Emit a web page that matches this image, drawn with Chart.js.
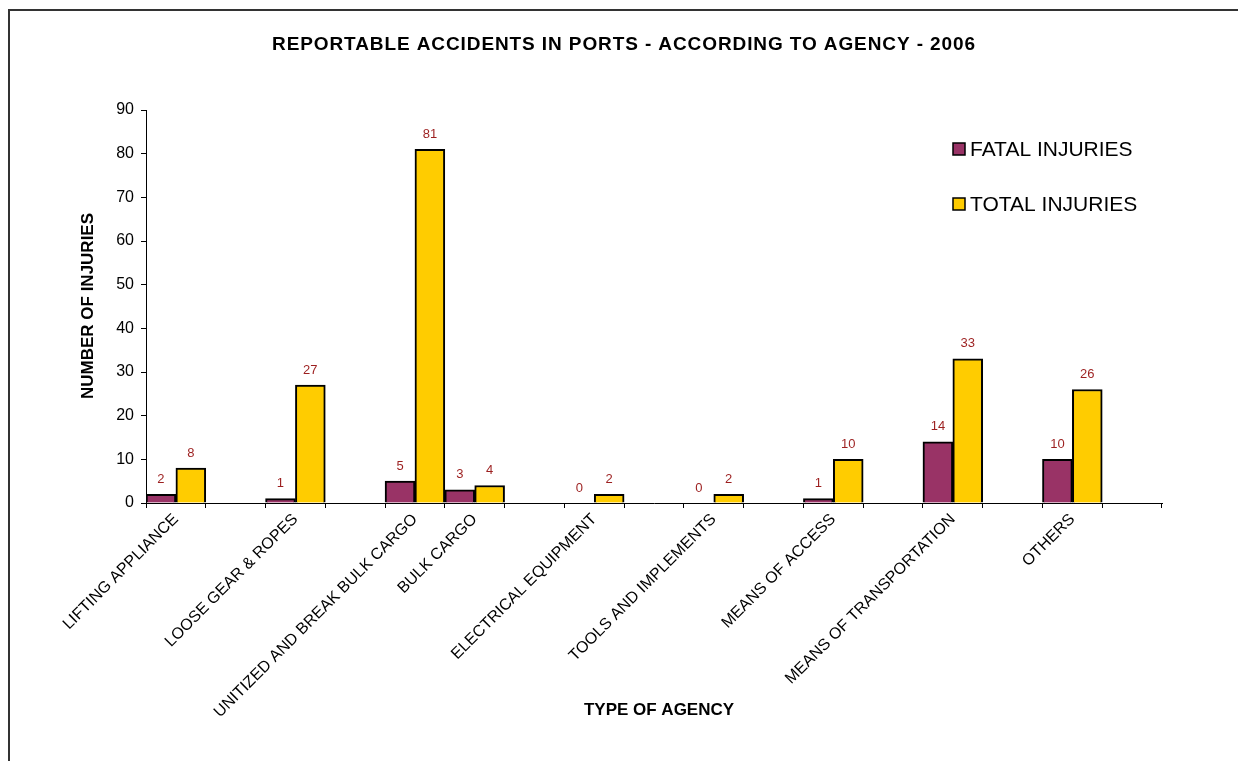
<!DOCTYPE html>
<html lang="en">
<head>
    <meta charset="UTF-8">
    <title>Reportable Accidents in Ports - 2006</title>
    <style>
        body {
            margin: 0;
            padding: 0;
            background-color: #fff;
            font-family: 'Liberation Sans', Arial, sans-serif;
        }

        .frame {
            position: absolute;
            left: 8px;
            top: 9px;
            width: 1240px;
            height: 760px;
            border-left: 2px solid #333;
            border-top: 2px solid #333;
        }

        .chart-box {
            position: absolute;
            left: 0;
            top: 0;
            width: 1238px;
            height: 761px;
        }
    </style>
</head>
<body>
    <div class="frame"></div>
    <div class="chart-box">
        <canvas id="accidentChart" width="1238" height="761"></canvas>
    </div>
    <script src="https://cdn.jsdelivr.net/npm/chart.js"></script>
    <script>
        // tick labels; the blank slots are the gaps between groups in the original sheet
        const agencies = [
            'LIFTING APPLIANCE', '',
            'LOOSE GEAR & ROPES', '',
            'UNITIZED AND BREAK BULK CARGO', 'BULK CARGO', '',
            'ELECTRICAL EQUIPMENT', '',
            'TOOLS AND IMPLEMENTS', '',
            'MEANS OF ACCESS', '',
            'MEANS OF TRANSPORTATION', '',
            'OTHERS', ''
        ];
        const fatalInjuries = [2, null, 1, null, 5, 3, null, 0, null, 0, null, 1, null, 14, null, 10, null];
        const totalInjuries = [8, null, 27, null, 81, 4, null, 2, null, 2, null, 10, null, 33, null, 26, null];
        const yTicks = [0, 10, 20, 30, 40, 50, 60, 70, 80, 90];

        const chartTitle = 'REPORTABLE ACCIDENTS IN PORTS - ACCORDING TO AGENCY - 2006';
        const xTitle = 'TYPE OF AGENCY';
        const yTitle = 'NUMBER OF INJURIES';

        const FONT = "'Liberation Sans', Arial, sans-serif";
        const FATAL_COLOR = '#993366';
        const TOTAL_COLOR = '#FFCC00';
        const LABEL_COLOR = '#9C1F1F';

        // title, axis titles, legend and value labels
        const decorations = {
            id: 'decorations',
            afterDatasetsDraw(chart) {
                const ctx = chart.ctx;
                ctx.save();

                // value labels above the bars
                ctx.fillStyle = LABEL_COLOR;
                ctx.font = '13px ' + FONT;
                ctx.textAlign = 'center';
                ctx.textBaseline = 'middle';
                chart.data.datasets.forEach((ds, i) => {
                    const meta = chart.getDatasetMeta(i);
                    meta.data.forEach((bar, j) => {
                        const v = ds.data[j];
                        if (v === null || v === undefined) return;
                        ctx.fillText(String(v), bar.x, bar.y - 15);
                    });
                });

                // chart title (excel draws it a bit wider than the browser)
                ctx.fillStyle = '#000';
                ctx.font = 'bold 19px ' + FONT;
                ctx.letterSpacing = '0.9px';
                ctx.fillText(chartTitle, 624, 45);
                ctx.letterSpacing = '0px';

                // axis titles
                ctx.font = 'bold 17px ' + FONT;
                ctx.fillText(xTitle, 659, 710);

                ctx.save();
                ctx.translate(88, 306);
                ctx.rotate(-Math.PI / 2);
                ctx.fillText(yTitle, 0, 0);
                ctx.restore();

                // legend
                const items = [
                    { text: 'FATAL INJURIES', color: FATAL_COLOR, y: 149 },
                    { text: 'TOTAL INJURIES', color: TOTAL_COLOR, y: 204 }
                ];
                ctx.textAlign = 'left';
                ctx.font = '21px ' + FONT;
                items.forEach(item => {
                    ctx.fillStyle = item.color;
                    ctx.fillRect(953, item.y - 6, 12, 12);
                    ctx.strokeStyle = '#000';
                    ctx.lineWidth = 1.5;
                    ctx.strokeRect(953, item.y - 6, 12, 12);
                    ctx.fillStyle = '#000';
                    ctx.fillText(item.text, 970, item.y + 1);
                });

                ctx.restore();
            }
        };

        const ctx = document.getElementById('accidentChart').getContext('2d');
        const accidentChart = new Chart(ctx, {
            type: 'bar',
            data: {
                labels: agencies,
                datasets: [
                    {
                        label: 'FATAL INJURIES',
                        data: fatalInjuries,
                        backgroundColor: FATAL_COLOR,
                        borderColor: '#000',
                        borderWidth: 2,
                        borderSkipped: 'bottom'
                    },
                    {
                        label: 'TOTAL INJURIES',
                        data: totalInjuries,
                        backgroundColor: TOTAL_COLOR,
                        borderColor: '#000',
                        borderWidth: 2,
                        borderSkipped: 'bottom'
                    }
                ]
            },
            options: {
                responsive: false,
                animation: false,
                devicePixelRatio: 1,
                datasets: {
                    bar: {
                        categoryPercentage: 1,
                        barPercentage: 1
                    }
                },
                layout: {
                    padding: { top: 110, right: 76, bottom: 0, left: 0 }
                },
                plugins: {
                    legend: { display: false },
                    title: { display: false },
                    tooltip: { enabled: false }
                },
                scales: {
                    x: {
                        offset: true,
                        grid: {
                            offset: true,
                            drawOnChartArea: false,
                            drawTicks: true,
                            tickLength: 5,
                            color: '#000'
                        },
                        border: { display: true, color: '#000', width: 1 },
                        ticks: {
                            autoSkip: false,
                            minRotation: 45,
                            maxRotation: 45,
                            padding: 2,
                            color: '#000',
                            font: { family: FONT, size: 16 }
                        },
                        afterFit(scale) {
                            scale.height = 258;
                            scale.paddingLeft = 0;
                            scale.paddingRight = 0;
                        }
                    },
                    y: {
                        min: 0,
                        max: 90,
                        afterBuildTicks(scale) {
                            scale.ticks = yTicks.map(v => ({ value: v }));
                        },
                        grid: {
                            drawOnChartArea: false,
                            drawTicks: true,
                            tickLength: 5,
                            color: '#000'
                        },
                        border: { display: true, color: '#000', width: 1 },
                        ticks: {
                            padding: 7,
                            color: '#000',
                            font: { family: FONT, size: 16 }
                        },
                        afterFit(scale) {
                            scale.width = 146;
                            scale.paddingTop = 0;
                            scale.paddingBottom = 0;
                        }
                    }
                }
            },
            plugins: [decorations]
        });
    </script>
</body>
</html>
